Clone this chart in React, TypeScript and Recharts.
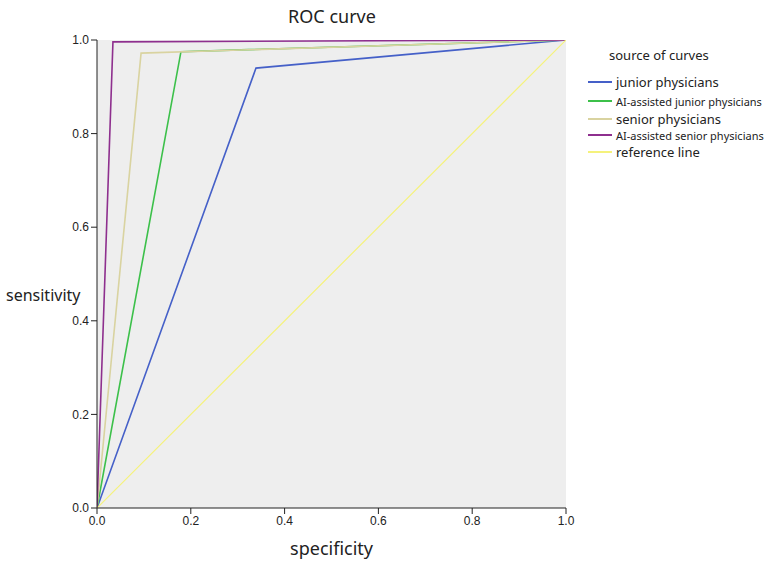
import React from 'react';
import { LineChart, Line, XAxis, YAxis, CartesianGrid } from 'recharts';

const ticks = [0, 0.2, 0.4, 0.6, 0.8, 1.0];

const juniorX = [0, 0.339, 1];
const juniorY = [0, 0.94, 1];
const aiJuniorX = [0, 0.179, 1];
const aiJuniorY = [0, 0.975, 1];
const seniorX = [0, 0.094, 1];
const seniorY = [0, 0.972, 1];
const aiSeniorX = [0, 0.034, 1];
const aiSeniorY = [0, 0.996, 1];
const refX = [0, 1];
const refY = [0, 1];

const seriesNames = [
  'junior physicians',
  'AI-assisted junior physicians',
  'senior physicians',
  'AI-assisted senior physicians',
  'reference line',
];
const seriesColors = ['#4560c8', '#3cc04a', '#d9d3a0', '#8e2f8e', '#f5f27c'];

const toPts = (xs: number[], ys: number[]) => xs.map((x, i) => ({ x, y: ys[i] }));

const seriesData = [
  toPts(juniorX, juniorY),
  toPts(aiJuniorX, aiJuniorY),
  toPts(seniorX, seniorY),
  toPts(aiSeniorX, aiSeniorY),
  toPts(refX, refY),
];

const legendFont = "'Noto Sans', 'Open Sans', sans-serif";
const itemSizes = [13, 11, 13, 11, 13];
const itemTops = [82, 101, 119, 135, 152];

const tickStyle = { fill: '#222', fontSize: 12, fontFamily: "'Liberation Sans', Arial, sans-serif" };

export default function App() {
  return (
    <div style={{ position: 'absolute', left: 0, top: 0, width: 766, height: 562, background: '#fff' }}>
      <LineChart width={766} height={562} margin={{ top: 40, right: 200, bottom: 24, left: 57 }}>
        <CartesianGrid fill="#eeeeee" horizontal={false} vertical={false} />
        <XAxis
          xAxisId="main"
          type="number"
          dataKey="x"
          domain={[0, 1]}
          ticks={ticks}
          tickFormatter={(v: number) => v.toFixed(1)}
          stroke="#222"
          tick={tickStyle}
          tickSize={6}
          height={30}
          allowDataOverflow
        />
        <XAxis xAxisId="top" orientation="top" type="number" domain={[0, 1]} tick={false} tickLine={false} stroke="#777" height={0} allowDataOverflow />
        <YAxis
          yAxisId="main"
          type="number"
          dataKey="y"
          domain={[0, 1]}
          ticks={ticks}
          tickFormatter={(v: number) => v.toFixed(1)}
          stroke="#222"
          tick={tickStyle}
          tickSize={6}
          width={40}
          allowDataOverflow
        />
        <YAxis yAxisId="right" orientation="right" type="number" domain={[0, 1]} tick={false} tickLine={false} stroke="#333" width={0} allowDataOverflow />
        {seriesData.map((d, i) => (
          <Line
            key={seriesNames[i]}
            xAxisId="main"
            yAxisId="main"
            data={d}
            dataKey="y"
            name={seriesNames[i]}
            stroke={seriesColors[i]}
            strokeWidth={i === 4 ? 1.2 : 1.6}
            dot={false}
            activeDot={false}
            isAnimationActive={false}
            type="linear"
          />
        ))}
      </LineChart>
      <div style={{ position: 'absolute', left: 609, top: 46, fontFamily: legendFont, fontSize: 13, color: '#222' }}>source of curves</div>
      {seriesNames.map((n, i) => (
        <div key={n} style={{ position: 'absolute', left: 588, top: itemTops[i] - 10, height: 20, display: 'flex', alignItems: 'center', fontFamily: legendFont, color: '#222' }}>
          <div style={{ width: 24, height: 2, background: seriesColors[i], marginRight: 4 }} />
          <span style={{ fontSize: itemSizes[i], whiteSpace: 'nowrap' }}>{n}</span>
        </div>
      ))}
      <div style={{ position: 'absolute', left: 0, width: 664, top: 4, textAlign: 'center', fontFamily: legendFont, fontSize: 18, color: '#222' }}>ROC curve</div>
      <div style={{ position: 'absolute', left: 97, width: 469, top: 536, textAlign: 'center', fontFamily: legendFont, fontSize: 18, color: '#222' }}>specificity</div>
      <div style={{ position: 'absolute', left: 6, top: 284, fontFamily: legendFont, fontSize: 16, color: '#222' }}>sensitivity</div>
    </div>
  );
}
